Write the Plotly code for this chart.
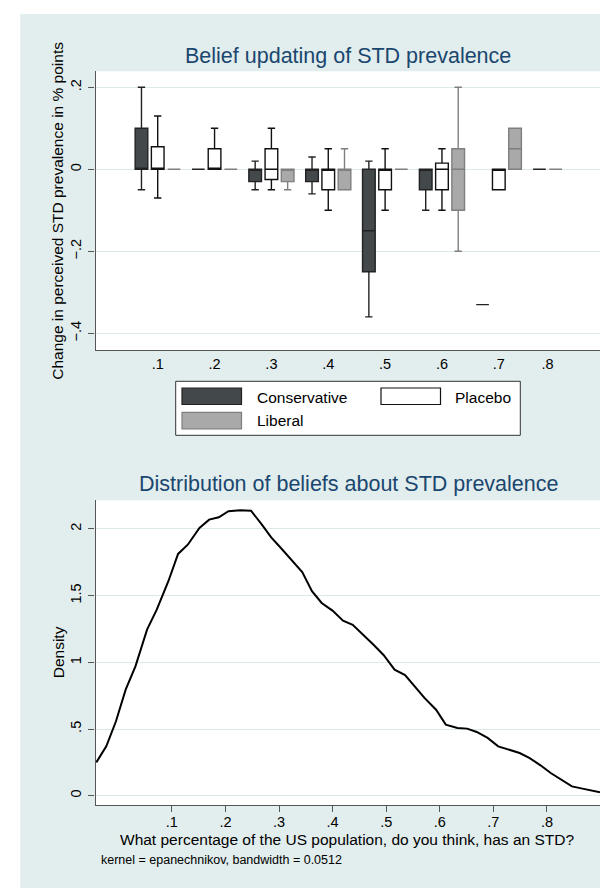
import plotly.graph_objects as go

# ---------------- data ----------------
categories = [".1", ".2", ".3", ".4", ".5", ".6", ".7", ".8"]
series_names = ["Conservative", "Placebo", "Liberal"]

cons_q1 = [0.00, 0.00, -0.03, -0.03, -0.25, -0.05, -0.33, 0.00]
cons_med = [0.00, 0.00, 0.00, 0.00, -0.15, 0.00, -0.33, 0.00]
cons_q3 = [0.10, 0.00, 0.00, 0.00, 0.00, 0.00, -0.33, 0.00]
cons_lo = [-0.05, 0.00, -0.05, -0.06, -0.36, -0.10, -0.33, 0.00]
cons_hi = [0.20, 0.00, 0.02, 0.03, 0.02, 0.00, -0.33, 0.00]

plac_q1 = [0.00, 0.00, -0.025, -0.05, -0.05, -0.05, -0.05, None]
plac_med = [0.00, 0.00, 0.00, 0.00, 0.00, 0.00, 0.00, None]
plac_q3 = [0.055, 0.05, 0.05, 0.00, 0.00, 0.015, 0.00, None]
plac_lo = [-0.07, 0.00, -0.05, -0.10, -0.10, -0.10, -0.05, None]
plac_hi = [0.13, 0.10, 0.10, 0.05, 0.05, 0.05, 0.00, None]

lib_q1 = [0.00, 0.00, -0.03, -0.05, 0.00, -0.10, 0.00, 0.00]
lib_med = [0.00, 0.00, 0.00, 0.00, 0.00, 0.00, 0.05, 0.00]
lib_q3 = [0.00, 0.00, 0.00, 0.00, 0.00, 0.05, 0.10, 0.00]
lib_lo = [0.00, 0.00, -0.05, -0.05, 0.00, -0.20, 0.00, 0.00]
lib_hi = [0.00, 0.00, 0.00, 0.05, 0.00, 0.20, 0.10, 0.00]

top_ytick_vals = [0.2, 0.0, -0.2, -0.4]
top_ytick_text = [".2", "0", "\u2212.2", "\u2212.4"]

# kernel density of beliefs
dens_x = [-0.041, -0.0224, -0.0043, 0.0138, 0.032, 0.0537, 0.0718, 0.0935, 0.1116,
          0.1297, 0.1515, 0.1696, 0.1876, 0.2057, 0.2275, 0.2477, 0.2673, 0.2854,
          0.3035, 0.3252, 0.3433, 0.3615, 0.3796, 0.3998, 0.4194, 0.4375, 0.4556,
          0.4773, 0.4954, 0.5156, 0.5352, 0.5533, 0.5714, 0.5931, 0.6112, 0.633,
          0.651, 0.669, 0.6893, 0.709, 0.727, 0.749, 0.767, 0.788, 0.807, 0.8285,
          0.8466, 0.864, 0.899]
dens_y = [0.25, 0.37, 0.558, 0.795, 0.97, 1.245, 1.395, 1.608, 1.813,
          1.882, 2.008, 2.07, 2.088, 2.133, 2.14, 2.137, 2.037, 1.937,
          1.857, 1.757, 1.677, 1.533, 1.445, 1.388, 1.312, 1.282, 1.213,
          1.128, 1.053, 0.945, 0.905, 0.82, 0.733, 0.645, 0.533, 0.508,
          0.503, 0.478, 0.433, 0.37, 0.345, 0.32, 0.283, 0.228, 0.17, 0.1125,
          0.07, 0.055, 0.025]
bot_xtick_vals = [0.1, 0.2, 0.3, 0.4, 0.5, 0.6, 0.7, 0.8]
bot_xtick_text = [".1", ".2", ".3", ".4", ".5", ".6", ".7", ".8"]
bot_ytick_vals = [0, 0.5, 1, 1.5, 2]
bot_ytick_text = ["0", ".5", "1", "1.5", "2"]

# ---------------- styling ----------------
W, H = 608, 888
FONT = "Liberation Sans, Arial, Helvetica, sans-serif"
PANEL = "#e2eded"
GRID = "#dde8e8"
AXIS = "#555555"
NAVY = "#1a476f"
styles = {
    "Conservative": dict(fill="#43484b", line="#222222"),
    "Placebo": dict(fill="#ffffff", line="#111111"),
    "Liberal": dict(fill="#a9a9a9", line="#7f7f7f"),
}
stats = {
    "Conservative": (cons_q1, cons_med, cons_q3, cons_lo, cons_hi),
    "Placebo": (plac_q1, plac_med, plac_q3, plac_lo, plac_hi),
    "Liberal": (lib_q1, lib_med, lib_q3, lib_lo, lib_hi),
}


def px(x):
    return x / W


def py(y):
    return 1 - y / H


# slot positions (Stata over()/nofill layout)
pos = {s: [None] * len(categories) for s in series_names}
centers = []
cur = 0.0
for i in range(len(categories)):
    ps = []
    for s in series_names:
        if stats[s][1][i] is not None:
            pos[s][i] = cur
            ps.append(cur)
            cur += 1
    centers.append(sum(ps) / len(ps))
    cur += 0.5

fig = go.Figure()

for s in series_names:
    q1, med, q3, lo, hi = stats[s]
    idx = [i for i in range(len(categories)) if med[i] is not None]
    st = styles[s]
    fig.add_trace(go.Box(
        x=[pos[s][i] for i in idx],
        q1=[q1[i] for i in idx], median=[med[i] for i in idx], q3=[q3[i] for i in idx],
        lowerfence=[lo[i] for i in idx], upperfence=[hi[i] for i in idx],
        fillcolor=st["fill"], line=dict(color=st["line"], width=1.4),
        width=0.78, whiskerwidth=0.58, boxpoints=False, name=s,
        showlegend=False, hoverinfo="skip", xaxis="x", yaxis="y",
    ))

fig.add_trace(go.Scatter(
    x=dens_x, y=dens_y, mode="lines", line=dict(color="black", width=2),
    showlegend=False, hoverinfo="skip", xaxis="x2", yaxis="y2",
))

xdom = [px(87.5), px(592)]
tick_font = dict(family=FONT, size=14.5, color="black")

fig.update_layout(
    width=W, height=H, margin=dict(l=0, r=0, t=0, b=0),
    paper_bgcolor=PANEL, plot_bgcolor="white",
    font=dict(family=FONT, color="black"),
    showlegend=False,
    xaxis=dict(domain=xdom, anchor="y", range=[-2.83, 28.23],
               tickvals=centers, ticktext=categories, ticks="",
               showline=True, linecolor=AXIS, linewidth=1.2,
               showgrid=False, zeroline=False, tickfont=tick_font,
               ticklabelstandoff=0),
    yaxis=dict(domain=[py(342.3), py(63.3)], anchor="x", range=[-0.4415, 0.239],
               tickvals=top_ytick_vals, ticktext=top_ytick_text, tickangle=-90,
               ticks="outside", ticklen=6, tickcolor=AXIS, tickwidth=1.2,
               showline=True, linecolor=AXIS, linewidth=1.2,
               showgrid=True, gridcolor=GRID, gridwidth=1, zeroline=False,
               tickfont=tick_font, ticklabelstandoff=2),
    xaxis2=dict(domain=xdom, anchor="y2", range=[-0.0425, 0.899],
                tickvals=bot_xtick_vals, ticktext=bot_xtick_text,
                ticks="outside", ticklen=6, tickcolor=AXIS, tickwidth=1.2,
                showline=True, linecolor=AXIS, linewidth=1.2,
                showgrid=False, zeroline=False, tickfont=tick_font,
                ticklabelstandoff=-3),
    yaxis2=dict(domain=[py(797.3), py(492.3)], anchor="x2", range=[-0.072, 2.215],
                tickvals=bot_ytick_vals, ticktext=bot_ytick_text, tickangle=-90,
                ticks="outside", ticklen=6, tickcolor=AXIS, tickwidth=1.2,
                showline=True, linecolor=AXIS, linewidth=1.2,
                showgrid=True, gridcolor=GRID, gridwidth=1, zeroline=False,
                tickfont=tick_font, ticklabelstandoff=2),
)

shapes = [
    # white outer margins
    dict(type="rect", xref="paper", yref="paper", x0=0, x1=px(12.3), y0=0, y1=1,
         fillcolor="white", line=dict(width=0), layer="below"),
    dict(type="rect", xref="paper", yref="paper", x0=0, x1=1, y0=py(6), y1=1,
         fillcolor="white", line=dict(width=0), layer="below"),
    # legend frame
    dict(type="rect", xref="paper", yref="paper", x0=px(167.7), x1=px(512.3),
         y0=py(427.3), y1=py(373.3), fillcolor="white", line=dict(color="#333333", width=1)),
]
legend_items = [
    ("Conservative", 174, 380, 247, 389),
    ("Placebo", 373, 380, 444.6, 389),
    ("Liberal", 174, 404.3, 247, 412.5),
]
annotations = []
for name, sx, sy, tx, ty in legend_items:
    st = styles[name]
    shapes.append(dict(type="rect", xref="paper", yref="paper", x0=px(sx), x1=px(sx + 59.5),
                       y0=py(sy + 16.5), y1=py(sy), fillcolor=st["fill"],
                       line=dict(color=st["line"], width=1.2)))
    annotations.append(dict(text=name, xref="paper", yref="paper", x=px(tx), y=py(ty),
                            xanchor="left", yanchor="middle", showarrow=False,
                            font=dict(family=FONT, size=15.5, color="black")))

annotations += [
    dict(text="Belief updating of STD prevalence", xref="paper", yref="paper",
         x=px(340), y=py(48), xanchor="center", yanchor="middle", showarrow=False,
         font=dict(family=FONT, size=21.5, color=NAVY)),
    dict(text="Distribution of beliefs about STD prevalence", xref="paper", yref="paper",
         x=px(340), y=py(475.5), xanchor="center", yanchor="middle", showarrow=False,
         font=dict(family=FONT, size=21.5, color=NAVY)),
    dict(text="Change in perceived STD prevalence in % points", xref="paper", yref="paper",
         x=px(50), y=py(202.8), xanchor="center", yanchor="middle", textangle=-90,
         showarrow=False, font=dict(family=FONT, size=15.5, color="black")),
    dict(text="Density", xref="paper", yref="paper",
         x=px(50.5), y=py(644.8), xanchor="center", yanchor="middle", textangle=-90,
         showarrow=False, font=dict(family=FONT, size=15.5, color="black")),
    dict(text="What percentage of the US population, do you think, has an STD?",
         xref="paper", yref="paper", x=px(339), y=py(831.5), xanchor="center",
         yanchor="middle", showarrow=False, font=dict(family=FONT, size=15.5, color="black")),
    dict(text="kernel = epanechnikov, bandwidth = 0.0512", xref="paper", yref="paper",
         x=px(91), y=py(852), xanchor="left", yanchor="middle", showarrow=False,
         font=dict(family=FONT, size=12.5, color="black")),
]
fig.update_layout(shapes=shapes, annotations=annotations)

fig.write_html("out.html")
